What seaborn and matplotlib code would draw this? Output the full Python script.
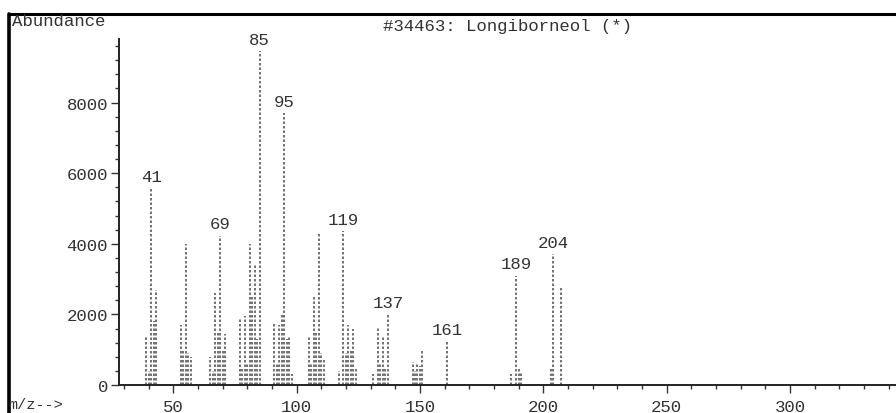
import numpy as np
import pandas as pd
import matplotlib
matplotlib.use('Agg')
import matplotlib.pyplot as plt
from matplotlib.lines import Line2D
from matplotlib.ticker import MultipleLocator
import seaborn as sns

# peaks (m/z, abundance)
mz = [39, 40, 41, 42, 43,
      53, 54, 55, 56, 57,
      65, 66, 67, 68, 69, 70, 71,
      77, 78, 79, 80, 81, 82, 83, 84, 85,
      91, 92, 93, 94, 95, 96, 97, 98,
      105, 106, 107, 108, 109, 110, 111,
      117, 119, 120, 121, 122, 123, 124,
      131, 133, 134, 135, 136, 137,
      147, 148, 149, 150, 151,
      161,
      187, 189, 190, 191,
      203, 204, 207]
abundance = [1350, 400, 5570, 1800, 2700,
             1700, 1000, 4000, 900, 800,
             800, 400, 2600, 1500, 4230, 1000, 1450,
             1900, 500, 1950, 600, 4000, 2500, 3400, 1300, 9450,
             1750, 600, 1700, 2000, 7700, 1300, 1400, 300,
             1400, 600, 2500, 1500, 4300, 900, 700,
             400, 4350, 900, 1700, 1000, 1600, 500,
             300, 1650, 600, 1400, 500, 2020,
             650, 400, 600, 550, 1000,
             1250,
             300, 3100, 500, 350,
             500, 3700, 2800]
labeled = [41, 69, 85, 95, 119, 137, 161, 189, 204]

title = '#34463: Longiborneol (*)'

# two rows per peak so each stem is its own line
stems = pd.DataFrame({
    'mz': np.repeat(mz, 2),
    'abund': np.ravel([[0, a] for a in abundance]),
})

sns.set_style('ticks')
plt.rcParams['font.family'] = ['Liberation Mono', 'DejaVu Sans Mono']
ink = '#333333'

fig = plt.figure(figsize=(8.96, 4.14), dpi=100)
ax = fig.add_axes([119 / 896, 28 / 414, 1 - 119 / 896, 346 / 414])

sns.lineplot(data=stems, x='mz', y='abund', units='mz', estimator=None,
             sort=False, color='#5a5a5a', linestyle=(0, (1.5, 1.2)),
             linewidth=1.2, legend=False, ax=ax)

for m in labeled:
    h = abundance[mz.index(m)]
    ax.annotate(str(m), (m, h), xytext=(0, 3), textcoords='offset points',
                ha='center', va='bottom', fontsize=12.5, color=ink)

ax.set_xlim(28, 343)
ax.set_ylim(0, 9800)
ax.xaxis.set_minor_locator(MultipleLocator(10))
ax.yaxis.set_minor_locator(MultipleLocator(400))
ax.set_xticks([50, 100, 150, 200, 250, 300])
ax.set_yticks([0, 2000, 4000, 6000, 8000])
ax.tick_params(axis='both', which='major', labelsize=12.5, colors=ink,
               length=6, width=1)
ax.tick_params(axis='both', which='minor', colors=ink, length=3, width=1)
ax.tick_params(axis='y', pad=2)
ax.tick_params(axis='x', pad=4)
ax.set_xlabel('')
ax.set_ylabel('')
sns.despine(ax=ax)
for side in ('left', 'bottom'):
    ax.spines[side].set_color('#222222')
    ax.spines[side].set_linewidth(1.4)

fig.text(12 / 896, 1 - 22 / 414, 'Abundance', ha='left', va='center',
         fontsize=12.5, color=ink)
fig.text(507 / 896, 1 - 27 / 414, title, ha='center', va='center',
         fontsize=12.5, color=ink)
fig.text(8 / 896, 1 - 405 / 414, 'm/z-->', ha='left', va='center',
         fontsize=11, color=ink)

# scan border along the top and left edges
fig.add_artist(Line2D([9 / 896, 1], [1 - 15 / 414, 1 - 15 / 414],
                      color='black', linewidth=2.2))
fig.add_artist(Line2D([9 / 896, 9 / 896], [0, 1 - 15 / 414],
                      color='black', linewidth=2.6))

fig.savefig('out.png', dpi=100, facecolor='white')
